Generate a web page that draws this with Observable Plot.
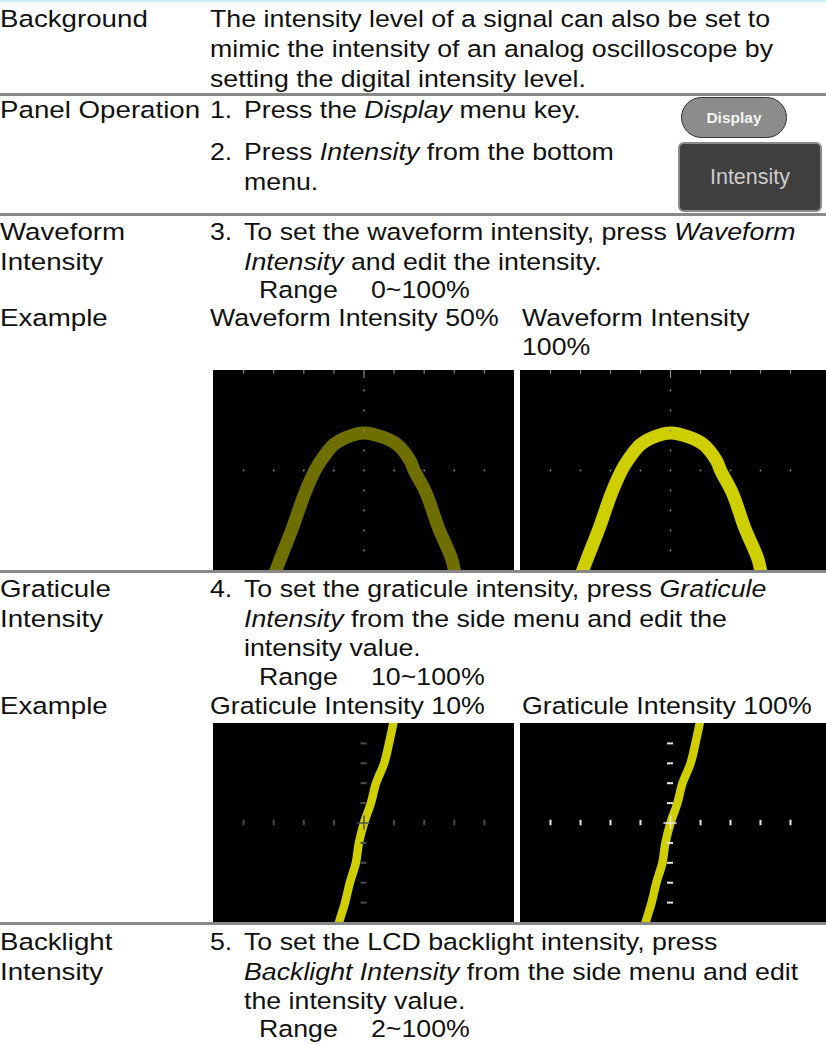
<!DOCTYPE html>
<html><head><meta charset="utf-8">
<script src="https://cdn.jsdelivr.net/npm/d3@7"></script>
<script src="https://cdn.jsdelivr.net/npm/@observablehq/plot@0.6"></script>
<style>
html,body{margin:0;padding:0;background:#fff;}
#page{position:relative;width:826px;height:1045px;overflow:hidden;font-family:"Liberation Sans",Arial,sans-serif;font-size:24.3px;color:#111;}
.t{position:absolute;white-space:nowrap;line-height:30px;transform:scaleX(1.1);transform-origin:0 0;}
.t.lab{transform:scaleX(1.14);}
.sep{position:absolute;left:0;width:826px;height:3px;background:#888;}
.scr{position:absolute;overflow:hidden;background:#000;}
.scr svg{display:block;}
#topline{position:absolute;left:0;top:0;width:826px;height:2px;background:#c9eef3;}
#btnDisplay{position:absolute;left:681px;top:97px;width:104px;height:39px;border-radius:21px;background:#8c8c8c;border:1px solid #333;color:#f4f4f4;font-weight:bold;font-size:15.5px;display:flex;align-items:center;justify-content:center;}
#btnInt{position:absolute;left:678px;top:142px;width:140px;height:66px;border-radius:6px;background:#3f3f3f;border:2px solid #8a8a8a;color:#cdcdcd;font-size:21.5px;display:flex;align-items:center;justify-content:center;}
</style></head><body><div id="page"></div>
<script>
// ---- chart data (graticule divisions) ----
const waveX = [-3.05, -2.8, -2.37, -1.97, -1.63, -1.43, -1.0, -0.6, 0, 0.6, 1.1, 1.53, 1.67, 2.07, 2.47, 2.93, 3.05];
const waveY = [-5.5, -4.5, -2.85, -1.15, 0, 0.5, 1.3, 1.65, 1.88, 1.68, 1.3, 0.5, 0, -1.15, -2.85, -4.5, -5.5];
const gratX = [1.0, 0.97, 0.83, 0.67, 0.4, 0.23, 0, -0.17, -0.27, -0.47, -0.63, -0.83, -0.87];
const gratY = [5.3, 5, 4, 3, 2, 1, 0, -1, -2, -3, -4, -5, -5.3];
const divTicksX = [-4, -3, -2, -1, 1, 2, 3, 4];
const divTicksY = [-4, -3, -2, -1, 1, 2, 3, 4];
const waveColors = ["#6f6f00", "#cfcf00"];
const gratColors = ["#4c4c4c", "#e6e6e6"];

const wave = waveX.map((x, i) => ({x, y: waveY[i]}));
const grat = gratX.map((x, i) => ({x, y: gratY[i]}));

const page = document.getElementById("page");
function el(cls, css, html) {
  const d = document.createElement("div");
  if (cls) d.className = cls;
  Object.assign(d.style, css);
  if (html != null) d.innerHTML = html;
  page.appendChild(d);
  return d;
}
function put(x, base, html) { el("t", {left: x + "px", top: (base - 23.3) + "px"}, html); }
function lab(base, html) { el("t lab", {left: "0px", top: (base - 23.3) + "px"}, html); }

el(null, {}, null).id = "topline";
[93, 213, 570, 922].forEach(y => el("sep", {top: y + "px"}));

const NX = 210, TX = 244, RX = 259, VX = 371, CX2 = 522;
// Row 1
lab(27, "Background");
put(NX, 27, "The intensity level of a signal can also be set to");
put(NX, 57, "mimic the intensity of an analog oscilloscope by");
put(NX, 87, "setting the digital intensity level.");
// Row 2
lab(118, "Panel Operation");
put(NX, 118, "1.");
put(TX, 118, "Press the <i>Display</i> menu key.");
put(NX, 160, "2.");
put(TX, 160, "Press <i>Intensity</i> from the bottom");
put(TX, 190, "menu.");
el(null, {}, "Display").id = "btnDisplay";
el(null, {}, "Intensity").id = "btnInt";
// Row 3
lab(240, "Waveform");
lab(270, "Intensity");
put(NX, 240, "3.");
put(TX, 240, "To set the waveform intensity, press <i>Waveform</i>");
put(TX, 270, "<i>Intensity</i> and edit the intensity.");
put(RX, 298, "Range");
put(VX, 298, "0~100%");
lab(326, "Example");
put(NX, 326, "Waveform Intensity 50%");
put(CX2, 326, "Waveform Intensity");
put(CX2, 355, "100%");
// Row 4
lab(597, "Graticule");
lab(627, "Intensity");
put(NX, 597, "4.");
put(TX, 597, "To set the graticule intensity, press <i>Graticule</i>");
put(TX, 627, "<i>Intensity</i> from the side menu and edit the");
put(TX, 656, "intensity value.");
put(RX, 685, "Range");
put(VX, 685, "10~100%");
lab(714, "Example");
put(NX, 714, "Graticule Intensity 10%");
put(CX2, 714, "Graticule Intensity 100%");
// Row 5
lab(950, "Backlight");
lab(980, "Intensity");
put(NX, 950, "5.");
put(TX, 950, "To set the LCD backlight intensity, press");
put(TX, 980, "<i>Backlight Intensity</i> from the side menu and edit");
put(TX, 1009, "the intensity value.");
put(RX, 1037, "Range");
put(VX, 1037, "2~100%");

// ---- oscilloscope screens ----
function waveScreen(left, top, w, h, xmax, color) {
  const c = el("scr", {left: left + "px", top: top + "px", width: w + "px", height: h + "px"});
  c.appendChild(Plot.plot({
    width: w, height: h, margin: 0,
    x: {domain: [-5, xmax], axis: null},
    y: {domain: [-5, 5], axis: null},
    style: {background: "#000"},
    marks: [
      Plot.line(wave, {x: "x", y: "y", stroke: color, strokeWidth: 13, curve: "catmull-rom"}),
      Plot.ruleX(divTicksX, {y1: 5, y2: 4.82, stroke: "#8a8a8a", strokeWidth: 1.2}),
      Plot.ruleX([0], {y1: 5, y2: 4.6, stroke: "#8a8a8a", strokeWidth: 1.2}),
      Plot.dot(divTicksX.concat([0]), {x: d => d, y: 0, r: 0.9, fill: "#8a8a8a", stroke: null}),
      Plot.dot(divTicksY, {x: 0, y: d => d, r: 0.9, fill: "#8a8a8a", stroke: null})
    ]
  }));
}
function gratScreen(left, top, w, h, xmax, tickColor) {
  const c = el("scr", {left: left + "px", top: top + "px", width: w + "px", height: h + "px"});
  c.appendChild(Plot.plot({
    width: w, height: h, margin: 0,
    x: {domain: [-5, xmax], axis: null},
    y: {domain: [-5, 5], axis: null},
    style: {background: "#000"},
    marks: [
      Plot.line(grat, {x: "x", y: "y", stroke: "#cfcf00", strokeWidth: 8.5, curve: "catmull-rom"}),
      Plot.ruleY(divTicksY, {x1: -0.1, x2: 0.1, stroke: tickColor, strokeWidth: 2}),
      Plot.ruleX(divTicksX, {y1: -0.14, y2: 0.14, stroke: tickColor, strokeWidth: 2}),
      Plot.ruleX([0], {y1: -0.35, y2: 0.35, stroke: tickColor, strokeWidth: 1.5}),
      Plot.ruleY([0], {x1: -0.22, x2: 0.22, stroke: tickColor, strokeWidth: 1.5})
    ]
  }));
}
waveScreen(213, 370, 301, 200, 5, waveColors[0]);
waveScreen(520, 370, 306, 200, 5.2, waveColors[1]);
gratScreen(213, 723, 301, 199, 5, gratColors[0]);
gratScreen(520, 723, 306, 199, 5.2, gratColors[1]);
</script></body></html>
